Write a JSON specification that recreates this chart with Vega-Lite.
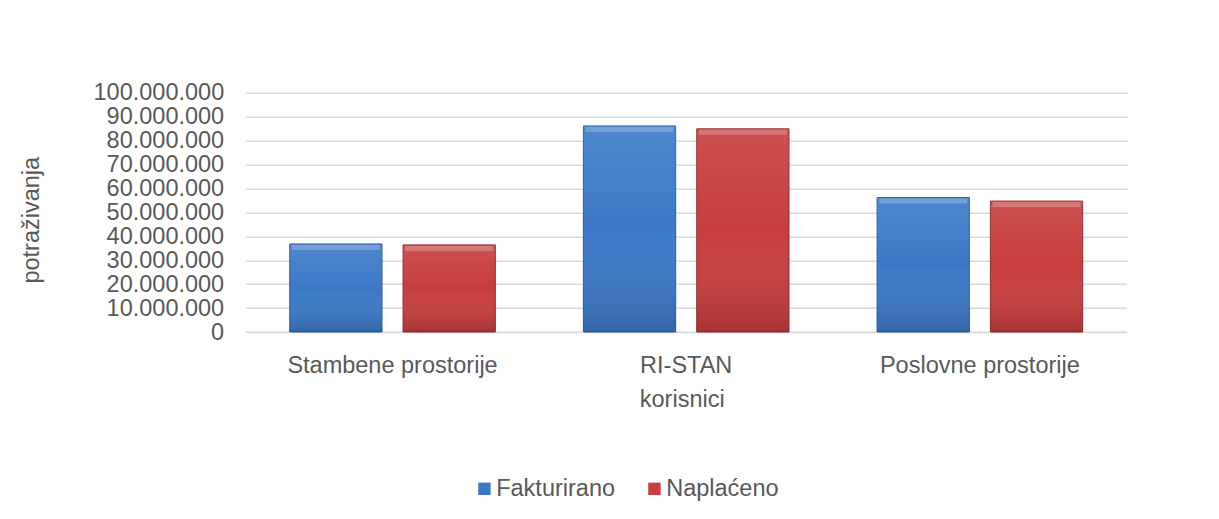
{
  "$schema": "https://vega.github.io/schema/vega-lite/v6.json",
  "width": 881,
  "height": 239.3,
  "autosize": {"type": "none"},
  "padding": {"left": 245.7, "top": 92.7, "right": 92.3, "bottom": 187},
  "background": "white",
  "config": {
    "locale": {"number": {"decimal": ",", "thousands": ".", "grouping": [3], "currency": ["", ""]}},
    "view": {"stroke": null},
    "font": "Liberation Sans"
  },
  "data": {
    "values": [
      {"korisnici": "Stambene prostorije", "serija": "Fakturirano", "iznos": 36800000},
      {"korisnici": "Stambene prostorije", "serija": "Naplaćeno", "iznos": 36400000},
      {"korisnici": "RI-STAN", "serija": "Fakturirano", "iznos": 86100000},
      {"korisnici": "RI-STAN", "serija": "Naplaćeno", "iznos": 84900000},
      {"korisnici": "Poslovne prostorije", "serija": "Fakturirano", "iznos": 56200000},
      {"korisnici": "Poslovne prostorije", "serija": "Naplaćeno", "iznos": 54700000}
    ]
  },
  "encoding": {
    "x": {
      "field": "korisnici",
      "type": "nominal",
      "sort": ["Stambene prostorije", "RI-STAN", "Poslovne prostorije"],
      "scale": {"paddingInner": 0.3, "paddingOuter": 0.15},
      "axis": {
        "title": "korisnici",
        "labelAngle": 0,
        "labelFontSize": 23.5,
        "labelColor": "#595959",
        "labelPadding": 21,
        "labelLimit": 500,
        "ticks": false,
        "tickSize": 0,
        "domain": true,
        "domainColor": "#d9d9d9",
        "domainWidth": 1.5,
        "grid": false,
        "titleFontSize": 23.5,
        "titleFontWeight": "normal",
        "titleColor": "#595959",
        "titleX": 436,
        "titleY": 74.7,
        "titleBaseline": "alphabetic",
        "titleAlign": "center"
      }
    },
    "xOffset": {
      "field": "serija",
      "type": "nominal",
      "sort": ["Fakturirano", "Naplaćeno"],
      "scale": {"paddingInner": 0.186, "paddingOuter": 0}
    },
    "y": {
      "field": "iznos",
      "type": "quantitative",
      "scale": {"domain": [0, 100000000], "nice": false},
      "axis": {
        "title": "potraživanja",
        "values": [0, 10000000, 20000000, 30000000, 40000000, 50000000, 60000000, 70000000, 80000000, 90000000, 100000000],
        "format": ",d",
        "labelFontSize": 23.5,
        "labelColor": "#595959",
        "labelPadding": 22,
        "labelLimit": 500,
        "ticks": false,
        "tickSize": 0,
        "domain": false,
        "grid": true,
        "gridColor": "#d9d9d9",
        "gridWidth": 1.5,
        "titleFontSize": 23.5,
        "titleFontWeight": "normal",
        "titleColor": "#595959",
        "titleX": -214,
        "titleY": 127,
        "titleAngle": -90,
        "titleBaseline": "middle",
        "titleAlign": "center"
      }
    }
  },
  "layer": [
    {
      "mark": {"type": "bar", "strokeWidth": 1},
      "encoding": {
        "color": {
          "field": "serija",
          "type": "nominal",
          "sort": ["Fakturirano", "Naplaćeno"],
          "scale": {"domain": ["Fakturirano", "Naplaćeno"], "range": ["#3b79c8", "#c83d3d"]},
          "legend": {
            "orient": "none",
            "legendX": 227,
            "legendY": 384,
            "direction": "horizontal",
            "title": null,
            "labelFontSize": 23.5,
            "labelColor": "#595959",
            "labelLimit": 300,
            "symbolType": "square",
            "symbolSize": 154,
            "symbolStrokeWidth": 0,
            "labelOffset": 0,
            "columnPadding": 27,
            "padding": 0
          }
        },
        "stroke": {
          "field": "serija",
          "type": "nominal",
          "scale": {"domain": ["Fakturirano", "Naplaćeno"], "range": ["#2c5a96", "#8f2a2a"]},
          "legend": null
        }
      }
    },
    {
      "mark": {
        "type": "bar",
        "fill": {
          "gradient": "linear",
          "x1": 0, "y1": 0, "x2": 0, "y2": 1,
          "stops": [
            {"offset": 0, "color": "rgba(255,255,255,0.10)"},
            {"offset": 0.5, "color": "rgba(255,255,255,0)"},
            {"offset": 1, "color": "rgba(0,0,0,0.16)"}
          ]
        }
      },
      "encoding": {}
    },
    {
      "mark": {"type": "tick", "color": "white", "opacity": 0.22, "thickness": 5, "size": 88, "yOffset": 3.5},
      "encoding": {}
    }
  ]
}
